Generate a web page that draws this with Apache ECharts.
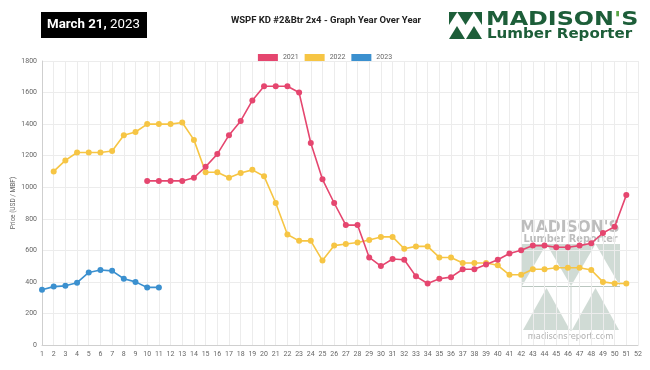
<!DOCTYPE html>
<html><head><meta charset="utf-8">
<script src="https://cdn.jsdelivr.net/npm/echarts@6/dist/echarts.min.js"></script>
<style>html,body{margin:0;padding:0;background:#fff}#c{width:650px;height:370px}</style>
</head><body><div id="c"></div><script>
const weeks = ['1','2','3','4','5','6','7','8','9','10','11','12','13','14','15','16','17','18','19','20','21','22','23','24','25','26','27','28','29','30','31','32','33','34','35','36','37','38','39','40','41','42','43','44','45','46','47','48','49','50','51','52'];
const y2021 = [null,null,null,null,null,null,null,null,null,
  1040,1040,1040,1040,1060,1130,1210,1330,1420,1550,1640,1640,1640,1600,1280,1050,900,760,760,555,500,545,540,435,390,420,430,480,480,510,540,580,600,630,630,620,620,630,645,710,750,950,null];
const y2022 = [null,
  1100,1170,1220,1220,1220,1230,1330,1350,1400,1400,1400,1410,1300,1095,1095,1060,1090,1110,1070,900,700,660,660,535,630,640,650,665,685,685,610,625,625,555,555,520,520,520,505,445,445,480,480,490,490,490,475,400,390,390,null];
const y2023 = [350,370,375,395,460,475,470,420,400,365,365];
const seriesNames = ['2021','2022','2023'];
const colors = ['#e5466f','#f6c544','#3b90cf'];
const yTicks = {min:0, max:1800, interval:200};

const chart = echarts.init(document.getElementById('c'), null, {renderer:'canvas'});
const FONT = 'Roboto, "Noto Sans", sans-serif';
const G = '#1d5e39';
const W = '#c8d5ce';
function mkSeries(name, data, color, z){
  return {name, type:'line', data, z, symbol:'circle', symbolSize:6, showSymbol:true,
    connectNulls:false, lineStyle:{width:1.6,color}, itemStyle:{color}, emphasis:{disabled:true}};
}
const graphics = [
  {type:'rect', shape:{x:41,y:12,width:106,height:26}, style:{fill:'#000'}},
  {type:'text', x:93.5, y:25, style:{text:'{b|March 21,} {n|2023}', align:'center', verticalAlign:'middle',
    rich:{b:{fontWeight:'bold',fontSize:13.3,fill:'#fff',color:'#fff',fontFamily:FONT},
          n:{fontSize:13.3,fill:'#fff',color:'#fff',fontFamily:FONT}}}},
  {type:'text', x:326, y:21, style:{text:'WSPF KD #2&Btr 2x4 - Graph Year Over Year', align:'center', verticalAlign:'middle',
    fontSize:9.5, fontWeight:'bold', fontFamily:FONT, fill:'#222'}},
  // header logo icon
  {type:'polygon', shape:{points:[[449,12],[457.25,12],[449,25]]}, style:{fill:G}},
  {type:'polygon', shape:{points:[[457.25,12],[473.75,12],[465.5,25]]}, style:{fill:G}},
  {type:'polygon', shape:{points:[[473.75,12],[482,12],[482,25]]}, style:{fill:G}},
  {type:'polygon', shape:{points:[[449,39],[465,39],[457,26]]}, style:{fill:G}},
  {type:'polygon', shape:{points:[[466,39],[482,39],[474,26]]}, style:{fill:G}},
  {type:'text', x:486, y:20, scaleX:1.19, originX:0, originY:0, style:{text:"{m|MADISON}{l|'}{m|S}", verticalAlign:'middle',
    rich:{m:{fontSize:20,fontWeight:'bold',fontFamily:'"DejaVu Sans"',fill:G,color:G},
          l:{fontSize:20,fontWeight:'bold',fontFamily:'"DejaVu Sans"',fill:'#5aa646',color:'#5aa646'}}}},
  {type:'text', x:487, y:34, scaleX:1.04, originX:0, originY:0, style:{text:'Lumber Reporter', verticalAlign:'middle',
    fontSize:14.5, fontWeight:'bold', fontFamily:'"DejaVu Sans"', fill:G}},
  // watermark
  {type:'group', z:-1, silent:true, children:[
    {type:'text', x:570, y:227.5, style:{text:"MADISON'S", align:'center', verticalAlign:'middle',
      fontSize:15.5, fontWeight:'bold', fontFamily:'"DejaVu Sans"', fill:'#bdbdbd'}},
    {type:'text', x:570.5, y:239.5, style:{text:'Lumber Reporter', align:'center', verticalAlign:'middle',
      fontSize:9.8, fontWeight:'bold', fontFamily:'"DejaVu Sans"', fill:'#bdbdbd'}},
    {type:'polygon', shape:{points:[[522,244],[546.5,244],[522,286]]}, style:{fill:W, opacity:0.85}},
    {type:'polygon', shape:{points:[[546.5,244],[595.5,244],[571,286]]}, style:{fill:W, opacity:0.85}},
    {type:'polygon', shape:{points:[[595.5,244],[620,244],[620,286]]}, style:{fill:W, opacity:0.85}},
    {type:'line', shape:{x1:522,y1:286.5,x2:620,y2:286.5}, style:{stroke:'#b9c6bf', lineWidth:1}},
    {type:'line', shape:{x1:571,y1:286,x2:571,y2:331}, style:{stroke:'#c9d3ce', lineWidth:1}},
    {type:'polygon', shape:{points:[[523,330],[570,330],[546.5,288]]}, style:{fill:W, opacity:0.85}},
    {type:'polygon', shape:{points:[[572,330],[619,330],[595.5,288]]}, style:{fill:W, opacity:0.85}},
    {type:'text', x:570.5, y:336.5, style:{text:'madisonsreport.com', align:'center', verticalAlign:'middle',
      fontSize:8.3, fontFamily:'"DejaVu Sans"', fill:'#b0b0b0'}}
  ]}
];
chart.setOption({
  animation:false,
  backgroundColor:'#fff',
  textStyle:{fontFamily:FONT},
  graphic:graphics,
  legend:{top:49, left:'center', icon:'rect', itemWidth:20, itemHeight:7, itemGap:6,
    textStyle:{fontSize:7, color:'#666', fontFamily:FONT},
    data:seriesNames},
  grid:{left:42, right:12, top:61, bottom:25, containLabel:false, outerBoundsMode:'none'},
  xAxis:{type:'category', boundaryGap:false, data:weeks,
    axisLine:{lineStyle:{color:'#cfcfcf'}}, axisTick:{show:false},
    axisLabel:{interval:0, fontSize:7, color:'#666', margin:6},
    splitLine:{show:true, interval:0, lineStyle:{color:'#ececec', width:1}}},
  yAxis:{type:'value', min:yTicks.min, max:yTicks.max, interval:yTicks.interval,
    name:'Price (USD / MBF)', nameLocation:'middle', nameGap:25, nameMoveOverlap:false,
    nameTextStyle:{fontSize:6.5, color:'#666'},
    axisLine:{show:true, lineStyle:{color:'#cfcfcf'}}, axisTick:{show:false},
    axisLabel:{fontSize:7, color:'#666', margin:5, formatter:(v)=>String(v)},
    splitLine:{lineStyle:{color:'#ececec'}}},
  series:[
    mkSeries(seriesNames[0], y2021, colors[0], 5),
    mkSeries(seriesNames[1], y2022, colors[1], 4),
    mkSeries(seriesNames[2], y2023, colors[2], 3)
  ]
});
</script></body></html>
